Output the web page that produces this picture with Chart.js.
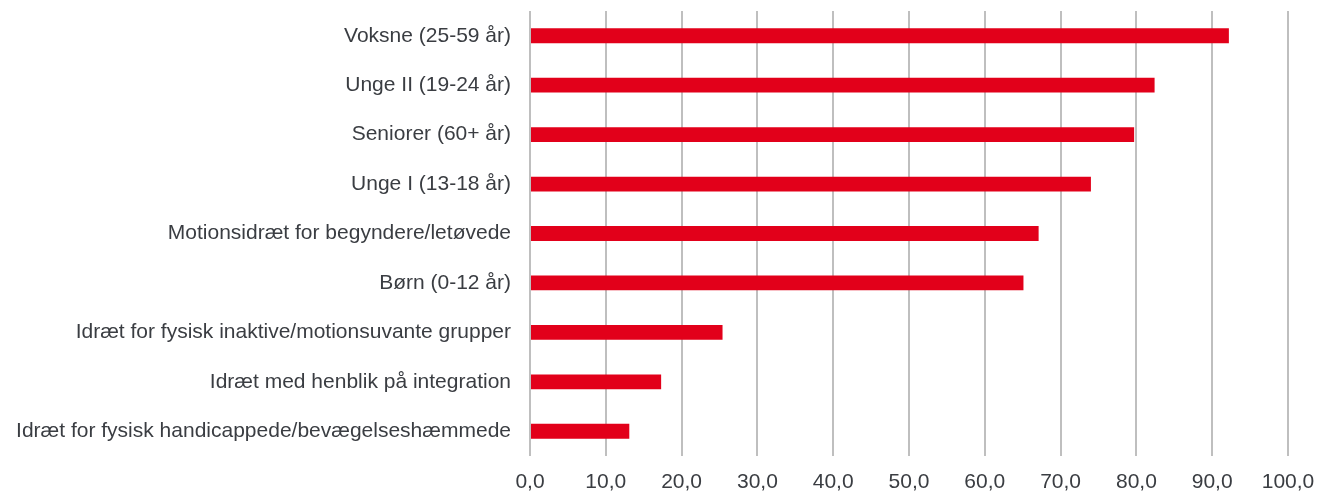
<!DOCTYPE html>
<html>
<head>
<meta charset="utf-8">
<script src="https://cdn.jsdelivr.net/npm/chart.js@4"></script>
<style>
  html, body { margin: 0; padding: 0; background: #fff; }
  #wrap { width: 1330px; height: 492px; }
</style>
</head>
<body>
<div id="wrap"><canvas id="myChart"></canvas></div>
<script>
const categories = [
  "Voksne (25-59 år)",
  "Unge II (19-24 år)",
  "Seniorer (60+ år)",
  "Unge I (13-18 år)",
  "Motionsidræt for begyndere/letøvede",
  "Børn (0-12 år)",
  "Idræt for fysisk inaktive/motionsuvante grupper",
  "Idræt med henblik på integration",
  "Idræt for fysisk handicappede/bevægelseshæmmede",
];
const values = [92.2, 82.4, 79.7, 74.0, 67.1, 65.1, 25.4, 17.3, 13.1];

const ctx = document.getElementById("myChart").getContext("2d");
const textColor = "#3a3d42";
const gridColor = "#bfbfbf";
const font = { family: "'Liberation Sans', Arial, sans-serif", size: 21 };

const chart = new Chart(ctx, {
  type: "bar",
  data: {
    labels: categories,
    datasets: [
      {
        data: values,
        backgroundColor: "#e2001a",
        categoryPercentage: 1,
        barPercentage: 0.3,
      },
    ],
  },
  options: {
    indexAxis: "y",
    responsive: true,
    maintainAspectRatio: false,
    animation: false,
    layout: { padding: { top: 11, right: 42, left: 0, bottom: 0 } },
    plugins: {
      legend: { display: false },
      tooltip: { enabled: false },
    },
    scales: {
      x: {
        min: 0,
        max: 100,
        border: { display: false },
        grid: { color: gridColor, lineWidth: 2, drawTicks: false },
        ticks: {
          stepSize: 10,
          padding: 14,
          color: textColor,
          font: font,
          callback: (v) => v.toFixed(1).replace(".", ","),
        },
        afterFit: (scale) => {
          scale.height = 36;
          scale.paddingLeft = 0;
          scale.paddingRight = 0;
        },
      },
      y: {
        border: { display: false },
        grid: { display: false, drawTicks: false },
        ticks: {
          padding: 19,
          color: textColor,
          font: font,
        },
        afterFit: (scale) => {
          scale.width = 530;
          scale.paddingTop = 0;
          scale.paddingBottom = 0;
        },
      },
    },
  },
});
</script>
</body>
</html>
